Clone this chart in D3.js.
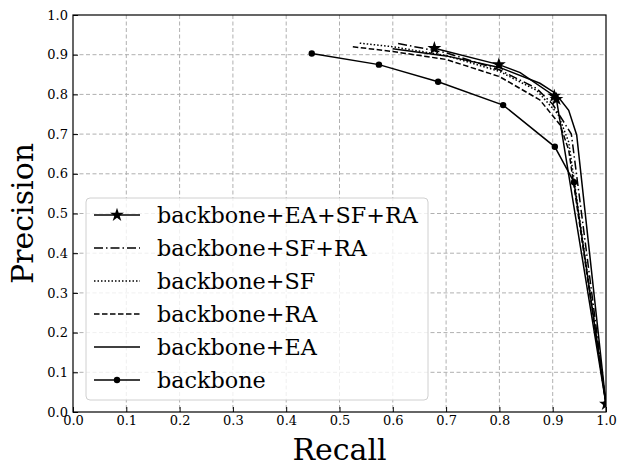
<!DOCTYPE html>
<html>
<head>
<meta charset="utf-8">
<script src="https://cdn.jsdelivr.net/npm/d3@7"></script>
<style>
  body { margin: 0; background: #fff; }
  text { font-family: "DejaVu Serif", serif; }
</style>
</head>
<body>
<div id="chart"></div>
<script>
// series, drawn back to front
var seriesNames = ['backbone+EA+SF+RA', 'backbone+SF+RA', 'backbone+SF', 'backbone+RA', 'backbone+EA', 'backbone'];

var recallFull = [0.678, 0.799, 0.839, 0.903, 0.907, 1.0];
var precFull   = [0.916, 0.875, 0.855, 0.796, 0.788, 0.02];
var markFull   = [0, 1, 3, 4, 5];

var recallSfRa = [0.61, 0.7, 0.8, 0.87, 0.9, 0.935, 1.0];
var precSfRa   = [0.928, 0.905, 0.862, 0.815, 0.775, 0.70, 0.02];

var recallSf = [0.538, 0.6, 0.7, 0.8, 0.87, 0.91, 0.93, 1.0];
var precSf   = [0.929, 0.92, 0.898, 0.858, 0.81, 0.75, 0.68, 0.02];

var recallRa = [0.525, 0.6, 0.7, 0.8, 0.876, 0.914, 0.93, 1.0];
var precRa   = [0.920, 0.908, 0.888, 0.845, 0.786, 0.723, 0.66, 0.02];

var recallEa = [0.6, 0.7, 0.8, 0.876, 0.905, 0.93, 0.945, 1.0];
var precEa   = [0.915, 0.897, 0.868, 0.828, 0.803, 0.76, 0.698, 0.02];

var recallBase = [0.448, 0.574, 0.685, 0.807, 0.904, 0.94, 1.0];
var precBase   = [0.903, 0.875, 0.832, 0.773, 0.668, 0.579, 0.02];

var ticks = [0, 0.1, 0.2, 0.3, 0.4, 0.5, 0.6, 0.7, 0.8, 0.9, 1.0];

var width = 619, height = 468;
var plotLeft = 73, plotRight = 606, plotTop = 15, plotBottom = 412;

var x = d3.scaleLinear().domain([0, 1]).range([plotLeft, plotRight]);
var y = d3.scaleLinear().domain([0, 1]).range([plotBottom, plotTop]);

var svg = d3.select('#chart').append('svg')
  .attr('width', width)
  .attr('height', height);

svg.append('clipPath').attr('id', 'plotclip')
  .append('rect')
  .attr('x', plotLeft).attr('y', plotTop)
  .attr('width', plotRight - plotLeft).attr('height', plotBottom - plotTop);

function zip(xs, ys) {
  return xs.map(function(v, i) { return [v, ys[i]]; });
}

var series = [
  { name: seriesNames[4], pts: zip(recallEa, precEa), dash: null, marker: null, marks: [] },
  { name: seriesNames[3], pts: zip(recallRa, precRa), dash: '5.5,2.5', marker: null, marks: [] },
  { name: seriesNames[2], pts: zip(recallSf, precSf), dash: '1.5,2', marker: null, marks: [] },
  { name: seriesNames[1], pts: zip(recallSfRa, precSfRa), dash: '9,3,1.5,3', marker: null, marks: [] },
  { name: seriesNames[5], pts: zip(recallBase, precBase), dash: null, marker: 'dot', marks: d3.range(recallBase.length) },
  { name: seriesNames[0], pts: zip(recallFull, precFull), dash: null, marker: 'star', marks: markFull }
];

// grid
var grid = svg.append('g');
grid.selectAll('.gx').data(ticks.slice(1, -1)).enter().append('line')
  .attr('x1', function(d) { return x(d); }).attr('x2', function(d) { return x(d); })
  .attr('y1', plotTop).attr('y2', plotBottom)
  .attr('stroke', '#b0b0b0').attr('stroke-width', 1).attr('stroke-dasharray', '4,2.5');
grid.selectAll('.gy').data(ticks.slice(1, -1)).enter().append('line')
  .attr('y1', function(d) { return y(d); }).attr('y2', function(d) { return y(d); })
  .attr('x1', plotLeft).attr('x2', plotRight)
  .attr('stroke', '#b0b0b0').attr('stroke-width', 1).attr('stroke-dasharray', '4,2.5');

var line = d3.line()
  .x(function(d) { return x(d[0]); })
  .y(function(d) { return y(d[1]); });

var star = d3.symbol().type(d3.symbolStar).size(60);

var plot = svg.append('g').attr('clip-path', 'url(#plotclip)');

series.forEach(function(s) {
  plot.append('path')
    .attr('d', line(s.pts))
    .attr('fill', 'none')
    .attr('stroke', '#000')
    .attr('stroke-width', 1.5)
    .attr('stroke-dasharray', s.dash);
  var m = s.marks.map(function(i) { return s.pts[i]; });
  if (s.marker === 'dot') {
    plot.selectAll(null).data(m).enter().append('circle')
      .attr('cx', function(d) { return x(d[0]); })
      .attr('cy', function(d) { return y(d[1]); })
      .attr('r', 3.2).attr('fill', '#000');
  } else if (s.marker === 'star') {
    plot.selectAll(null).data(m).enter().append('path')
      .attr('d', star)
      .attr('transform', function(d) { return 'translate(' + x(d[0]) + ',' + y(d[1]) + ')'; })
      .attr('fill', '#000');
  }
});

// axes with inward ticks
var xAxis = d3.axisBottom(x).tickValues(ticks).tickFormat(d3.format('.1f')).tickSizeInner(-5).tickSizeOuter(0).tickPadding(4);
var yAxis = d3.axisLeft(y).tickValues(ticks).tickFormat(d3.format('.1f')).tickSizeInner(-5).tickSizeOuter(0).tickPadding(5);

var gx = svg.append('g').attr('transform', 'translate(0,' + plotBottom + ')').call(xAxis);
var gy = svg.append('g').attr('transform', 'translate(' + plotLeft + ',0)').call(yAxis);
[gx, gy].forEach(function(g) {
  g.select('.domain').remove();
  g.selectAll('line').attr('stroke', '#000').attr('stroke-width', 1);
  g.selectAll('text').attr('font-family', '"DejaVu Serif", serif').attr('font-size', 13).attr('fill', '#000');
});

// frame
svg.append('rect')
  .attr('x', plotLeft).attr('y', plotTop)
  .attr('width', plotRight - plotLeft).attr('height', plotBottom - plotTop)
  .attr('fill', 'none').attr('stroke', '#000').attr('stroke-width', 1.2);

// axis titles
svg.append('text')
  .attr('x', (plotLeft + plotRight) / 2).attr('y', 460)
  .attr('text-anchor', 'middle').attr('font-size', 30)
  .text('Recall');
svg.append('text')
  .attr('transform', 'translate(33,' + ((plotTop + plotBottom) / 2) + ') rotate(-90)')
  .attr('text-anchor', 'middle').attr('font-size', 30)
  .text('Precision');

// legend
var legendOrder = [5, 3, 2, 1, 0, 4];
var lg = svg.append('g');
lg.append('rect')
  .attr('x', 86).attr('y', 198).attr('width', 342).attr('height', 202)
  .attr('rx', 4).attr('fill', '#fff').attr('fill-opacity', 0.8)
  .attr('stroke', '#d0d0d0').attr('stroke-width', 1);

legendOrder.forEach(function(k, i) {
  var s = series[k];
  var cy = 215 + i * 33;
  lg.append('line')
    .attr('x1', 94).attr('x2', 140).attr('y1', cy).attr('y2', cy)
    .attr('stroke', '#000').attr('stroke-width', 1.5)
    .attr('stroke-dasharray', s.dash);
  if (s.marker === 'dot') {
    lg.append('circle').attr('cx', 117).attr('cy', cy).attr('r', 3.2).attr('fill', '#000');
  } else if (s.marker === 'star') {
    lg.append('path').attr('d', star).attr('transform', 'translate(117,' + cy + ')').attr('fill', '#000');
  }
  lg.append('text')
    .attr('x', 157).attr('y', cy).attr('dy', '0.35em')
    .attr('font-size', 22.3)
    .text(s.name);
});
</script>
</body>
</html>
